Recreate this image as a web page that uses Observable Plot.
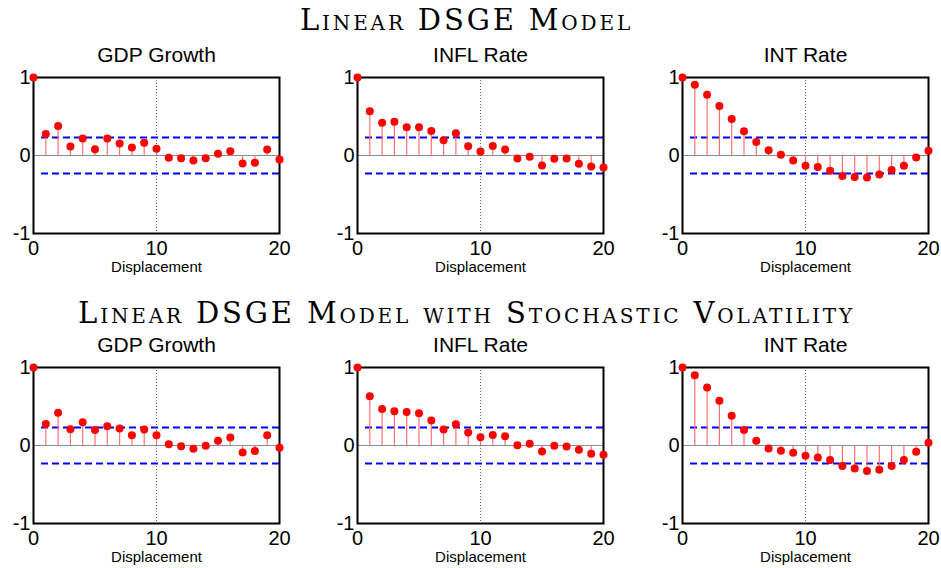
<!DOCTYPE html>
<html><head><meta charset="utf-8">
<script src="https://cdn.jsdelivr.net/npm/d3@7"></script>
<script src="https://cdn.jsdelivr.net/npm/@observablehq/plot@0.6"></script>
<style>
body{margin:0;background:#fff;width:941px;height:568px;position:relative;overflow:hidden;font-family:"Liberation Sans",Arial,sans-serif}
.title{position:absolute;left:0;width:933px;text-align:center;font-family:"DejaVu Serif","Liberation Serif",serif;font-variant:small-caps;color:#000;line-height:1;white-space:nowrap;letter-spacing:2.85px}
.panel{position:absolute;width:294px;height:243px}
.panel svg{overflow:visible;max-width:none !important}
</style></head><body>
<div id="root"></div>
<script>
const lags = [0,1,2,3,4,5,6,7,8,9,10,11,12,13,14,15,16,17,18,19,20];
const gdpLinear  = [1,0.277,0.379,0.115,0.217,0.081,0.217,0.153,0.102,0.162,0.085,-0.030,-0.034,-0.064,-0.034,0.021,0.055,-0.102,-0.094,0.077,-0.051];
const inflLinear = [1,0.566,0.421,0.434,0.362,0.362,0.315,0.196,0.285,0.119,0.051,0.123,0.077,-0.038,-0.017,-0.128,-0.043,-0.038,-0.106,-0.140,-0.153];
const intLinear  = [1,0.906,0.779,0.634,0.468,0.311,0.174,0.068,0.009,-0.064,-0.132,-0.149,-0.196,-0.264,-0.277,-0.281,-0.243,-0.187,-0.132,-0.026,0.060];
const gdpSV  = [1,0.277,0.421,0.209,0.298,0.200,0.247,0.217,0.132,0.204,0.132,0.017,-0.009,-0.043,-0.004,0.060,0.102,-0.089,-0.072,0.132,-0.030];
const inflSV = [1,0.630,0.468,0.438,0.430,0.413,0.319,0.204,0.272,0.166,0.106,0.136,0.119,0.004,0.021,-0.077,-0.004,-0.013,-0.055,-0.106,-0.119];
const intSV  = [1,0.902,0.745,0.574,0.383,0.200,0.060,-0.038,-0.068,-0.094,-0.132,-0.153,-0.187,-0.264,-0.294,-0.328,-0.311,-0.264,-0.187,-0.081,0.034];
const confBand = 0.23;
const panelTitles = ["GDP Growth","INFL Rate","INT Rate"];
const rowTitles = ["Linear DSGE Model","Linear DSGE Model with Stochastic Volatility"];
const xTicks = [0,10,20];
const yTicks = [-1,0,1];
const xLabel = "Displacement";

const rows = [[gdpLinear, inflLinear, intLinear],[gdpSV, inflSV, intSV]];
const colLefts = [0, 324, 648.5];
const rowTops = [35, 325];
const titleTops = [6, 299];

function panel(values, title) {
  const data = lags.map((lag, i) => ({lag, acf: values[i]}));
  return Plot.plot({
    width: 294, height: 243, marginLeft: 33, marginRight: 15, marginTop: 42, marginBottom: 45,
    style: {background: "transparent", fontFamily: "'Liberation Sans', Arial, sans-serif", fontSize: "20px", color: "black", overflow: "visible"},
    x: {domain: [0, 20], ticks: xTicks, tickSize: 0, tickPadding: 7, label: null, tickFormat: d => String(d)},
    y: {domain: [-1, 1], ticks: yTicks, tickSize: 0, tickPadding: 3, label: null, tickFormat: d => String(d)},
    marks: [
      Plot.ruleY([0], {stroke: "#8c8c8c", strokeWidth: 1}),
      Plot.ruleX([10], {stroke: "#666", strokeDasharray: "1,2", strokeWidth: 1}),
      Plot.ruleY([confBand, -confBand], {x1: 0.65, x2: 20, stroke: "#0000ff", strokeWidth: 2, strokeDasharray: "7,4"}),
      Plot.ruleX(data, {x: "lag", y1: 0, y2: "acf", stroke: "#ff7070", strokeWidth: 1.2}),
      Plot.frame({stroke: "black", strokeWidth: 2}),
      Plot.dot(data, {x: "lag", y: "acf", r: 4, fill: "#ff0000", stroke: "none"}),
      Plot.text([title], {frameAnchor: "top", lineAnchor: "middle", dy: -22, fontSize: 21, fill: "black"}),
      Plot.text([xLabel], {frameAnchor: "bottom", lineAnchor: "middle", dy: 34, fontSize: 15, fill: "black"})
    ]
  });
}

const root = document.getElementById("root");
rows.forEach((row, r) => {
  const t = document.createElement("div");
  t.className = "title";
  t.style.top = titleTops[r] + "px";
  t.style.fontSize = "29px";
  t.textContent = rowTitles[r];
  root.appendChild(t);
  row.forEach((vals, c) => {
    const d = document.createElement("div");
    d.className = "panel";
    d.style.left = colLefts[c] + "px";
    d.style.top = rowTops[r] + "px";
    d.appendChild(panel(vals, panelTitles[c]));
    root.appendChild(d);
  });
});
</script>
</body></html>
